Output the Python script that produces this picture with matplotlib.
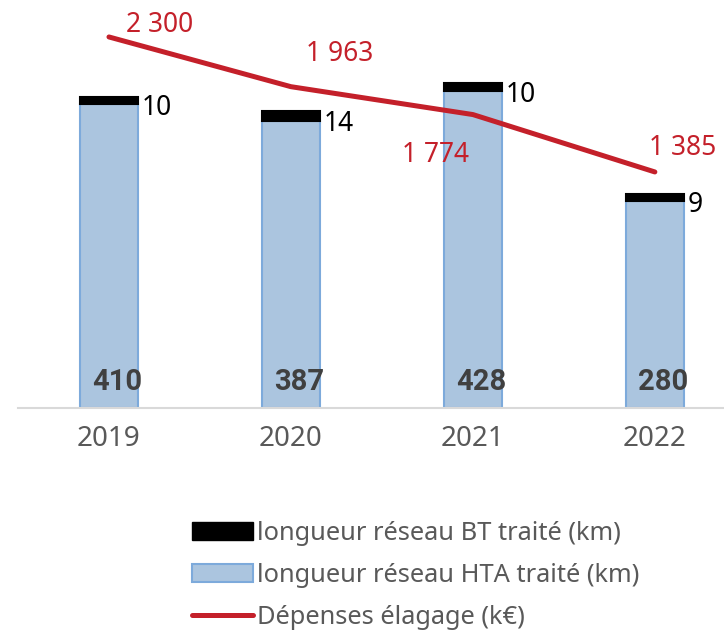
import matplotlib
matplotlib.use('Agg')
import matplotlib.pyplot as plt
from matplotlib.patches import Patch
from matplotlib.lines import Line2D

years = ['2019', '2020', '2021', '2022']
hta = [410, 387, 428, 280]
bt = [10, 14, 10, 9]
depenses = [2300, 1963, 1774, 1385]
depenses_labels = ['2 300', '1 963', '1 774', '1 385']
legend_labels = ['longueur réseau BT traité (km)',
                 'longueur réseau HTA traité (km)',
                 'Dépenses élagage (k€)']

plt.rcParams['font.family'] = ['Noto Sans', 'DejaVu Sans']

HTA_FILL = '#ABC5DF'
HTA_EDGE = '#7DAADB'
RED = '#C4202A'
GRAY = '#595959'

fig = plt.figure(figsize=(7.24, 6.32), dpi=100)
ax = fig.add_axes([18/724, 224/632, 706/724, 388/632])
x = list(range(len(years)))
w = 0.32
ax.bar(x, hta, w, color=HTA_FILL, edgecolor=HTA_EDGE, linewidth=1.5, zorder=2)
ax.bar(x, bt, w, bottom=hta, color='black', edgecolor='black', linewidth=1.5, zorder=2)
ax.set_xlim(-0.5, 3.38)
ax.set_ylim(0, 523.6)
for s in ['top', 'left', 'right']:
    ax.spines[s].set_visible(False)
ax.spines['bottom'].set_color('#D9D9D9')
ax.spines['bottom'].set_linewidth(1.5)
ax.set_yticks([])
ax.set_xticks(x)
ax.set_xticklabels(years, fontsize=20, color=GRAY)
ax.tick_params(axis='x', length=0, pad=12)

for i in x:
    ax.annotate(str(bt[i]), xy=(i + w/2, hta[i] + bt[i]/2), xytext=(4, -8),
                textcoords='offset pixels', ha='left', va='center',
                fontsize=19, color='black')
    ax.annotate(str(hta[i]), xy=(i, 0), xytext=(8, 26),
                textcoords='offset pixels', ha='center', va='center',
                fontsize=21, fontweight='bold', color='#404040',
                family=['Roboto', 'DejaVu Sans'])

ax2 = ax.twinx()
ax2.plot(x, depenses, color=RED, lw=3.6, solid_capstyle='round', zorder=3)
ax2.set_ylim(-215, 2415)
for s in ax2.spines.values():
    s.set_visible(False)
ax2.set_yticks([])

offsets = [(51, 12), (49, 33), (-37, -40), (28, 24)]
for i in x:
    ax2.annotate(depenses_labels[i], xy=(i, depenses[i]), xytext=offsets[i],
                 textcoords='offset pixels', ha='center', va='center',
                 fontsize=19, color=RED)

handles = [Patch(facecolor='black', edgecolor='black'),
           Patch(facecolor=HTA_FILL, edgecolor=HTA_EDGE, linewidth=1.5),
           Line2D([0], [0], color=RED, lw=3.6, solid_capstyle='round')]
fig.legend(handles, legend_labels, loc='upper left',
           bbox_to_anchor=(192/724, 1 - 521/632), frameon=False,
           fontsize=18.3, handlelength=2.4, handletextpad=0.15,
           labelspacing=0.66, labelcolor=GRAY, borderpad=0, borderaxespad=0)

fig.savefig('out.png', dpi=100)
